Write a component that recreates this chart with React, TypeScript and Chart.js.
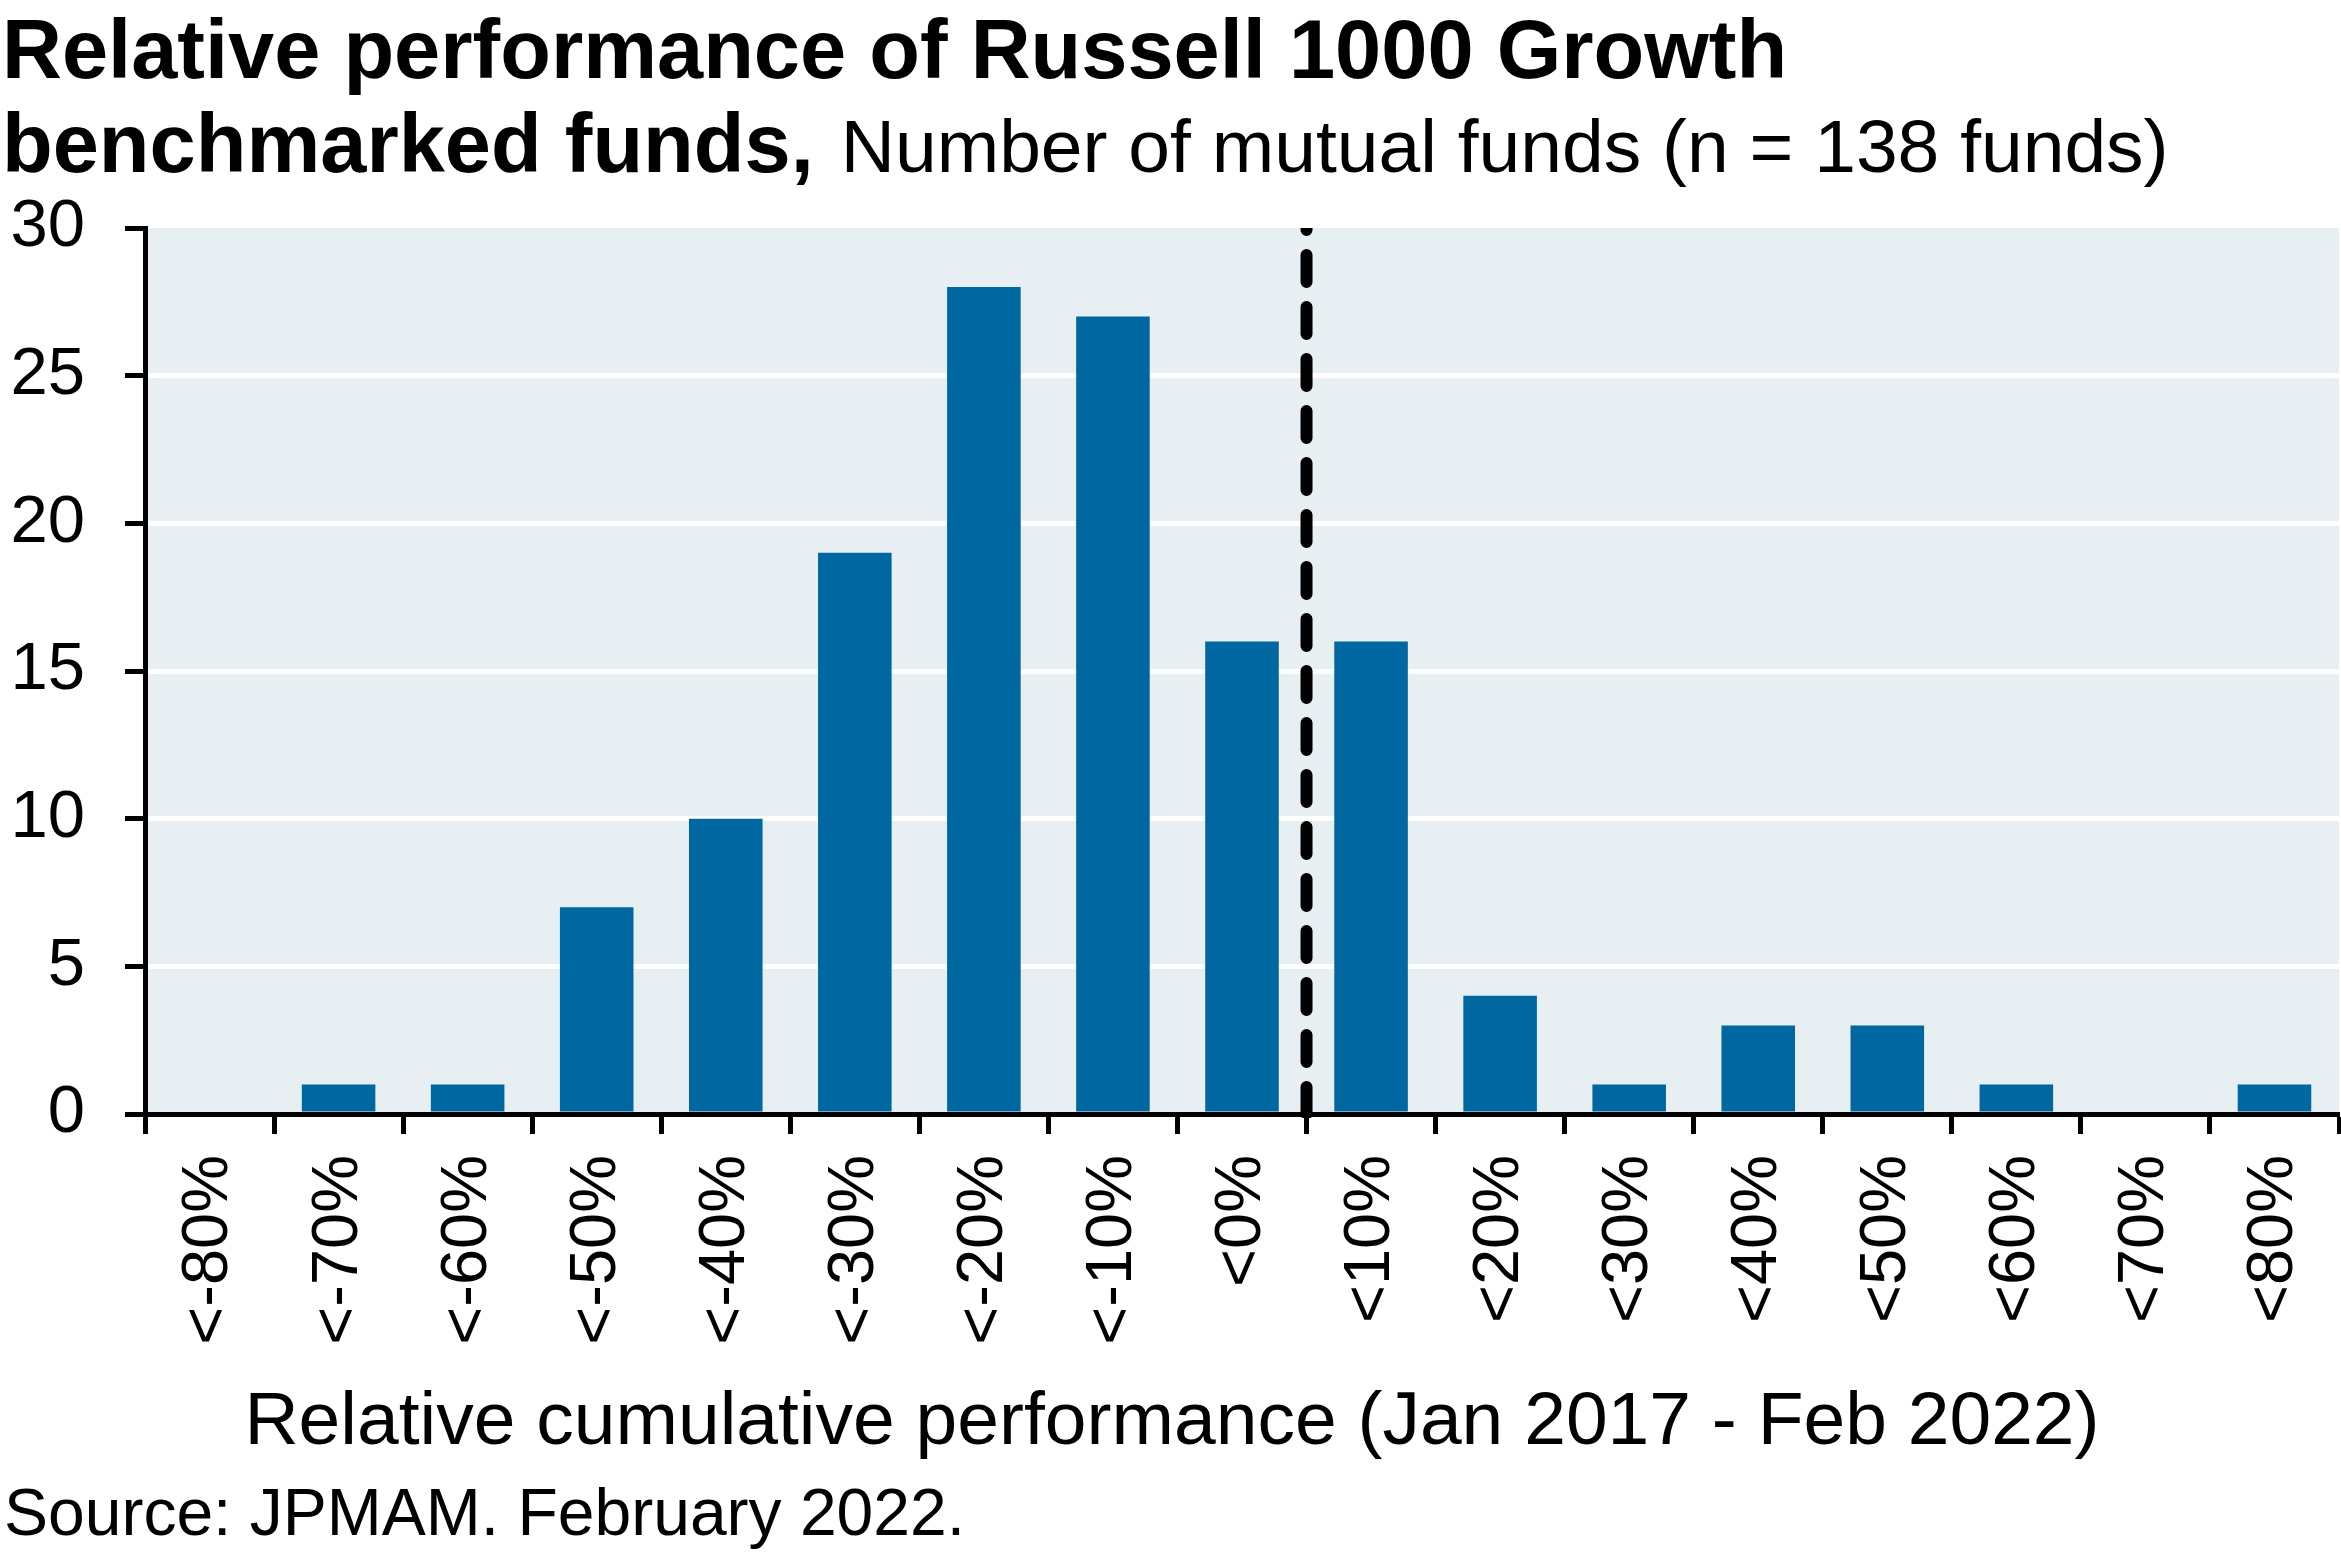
import React, { useEffect, useRef } from "react";
import { Chart, registerables } from "chart.js";

Chart.register(...registerables);

// ---------- data ----------
const categories = [
  "<-80%", "<-70%", "<-60%", "<-50%", "<-40%", "<-30%", "<-20%", "<-10%", "<0%",
  "<10%", "<20%", "<30%", "<40%", "<50%", "<60%", "<70%", "<80%",
];
const fundCounts = [0, 1, 1, 7, 10, 19, 28, 27, 16, 16, 4, 1, 3, 3, 1, 0, 1];
const yTickValues = [0, 5, 10, 15, 20, 25, 30];
const benchmarkLineAfter = "<0%"; // dashed line sits on the boundary after this category

const titleLine1 = "Relative performance of Russell 1000 Growth";
const titleLine2Bold = "benchmarked funds,";
const titleLine2Regular = "Number of mutual funds (n = 138 funds)";
const xAxisTitle = "Relative cumulative performance (Jan 2017 - Feb 2022)";
const sourceNote = "Source: JPMAM. February 2022.";

// ---------- style ----------
const W = 2341;
const H = 1561;
const FONT = '"Liberation Sans", Arial, Helvetica, sans-serif';
const BAR_COLOR = "#0067A0";
const PLOT_BG = "#E7EFF2";

const decorPlugin = {
  id: "decor",
  beforeDraw(chart: any) {
    const { ctx, chartArea } = chart;
    ctx.save();
    ctx.fillStyle = "#ffffff";
    ctx.fillRect(0, 0, chart.width, chart.height);
    ctx.fillStyle = PLOT_BG;
    ctx.fillRect(chartArea.left, chartArea.top, chartArea.right - chartArea.left, chartArea.bottom - chartArea.top);
    ctx.restore();
  },
  afterDraw(chart: any) {
    const { ctx, chartArea } = chart;
    const xs = chart.scales.x;
    const idx = categories.indexOf(benchmarkLineAfter);
    const lx = (xs.getPixelForValue(idx) + xs.getPixelForValue(idx + 1)) / 2;

    // dashed benchmark line
    ctx.save();
    ctx.beginPath();
    ctx.rect(chartArea.left, chartArea.top, chartArea.right - chartArea.left, chartArea.bottom - chartArea.top + 4);
    ctx.clip();
    ctx.strokeStyle = "#000";
    ctx.lineWidth = 12;
    ctx.lineCap = "round";
    ctx.setLineDash([27, 25]);
    ctx.beginPath();
    ctx.moveTo(lx, chartArea.bottom);
    ctx.lineTo(lx, chartArea.top - 10);
    ctx.stroke();
    ctx.restore();

    // texts
    ctx.save();
    ctx.fillStyle = "#000";
    ctx.textBaseline = "alphabetic";
    ctx.textAlign = "left";
    ctx.font = `bold 83px ${FONT}`;
    ctx.fillText(titleLine1, 2, 78);
    ctx.fillText(titleLine2Bold, 2, 172);
    const bw = ctx.measureText(titleLine2Bold + " ").width;
    ctx.font = `75px ${FONT}`;
    ctx.fillText(titleLine2Regular, 2 + bw + 4, 172);

    ctx.textAlign = "center";
    ctx.font = `75px ${FONT}`;
    ctx.fillText(xAxisTitle, 1172, 1444);

    ctx.textAlign = "left";
    ctx.font = `66px ${FONT}`;
    ctx.fillText(sourceNote, 4, 1535);
    ctx.restore();
  },
};

export default function App() {
  const ref = useRef<HTMLCanvasElement | null>(null);

  useEffect(() => {
    if (!ref.current) return;
    const chart = new Chart(ref.current, {
      type: "bar",
      data: {
        labels: categories,
        datasets: [
          {
            data: fundCounts,
            backgroundColor: BAR_COLOR,
            borderWidth: 0,
            barPercentage: 0.57,
            categoryPercentage: 1,
          },
        ],
      },
      options: {
        responsive: false,
        maintainAspectRatio: false,
        devicePixelRatio: 1,
        animation: false,
        layout: { padding: { top: 228, left: 0, right: 2, bottom: 0 } },
        plugins: {
          legend: { display: false },
          tooltip: { enabled: false },
          title: { display: false },
        },
        scales: {
          x: {
            type: "category",
            offset: true,
            grid: {
              offset: true,
              drawOnChartArea: false,
              drawTicks: true,
              tickLength: 20,
              tickColor: "#000",
              tickWidth: 5,
              color: "rgba(0,0,0,0)",
            },
            border: { display: true, color: "#000", width: 5, z: 1 },
            ticks: {
              autoSkip: false,
              minRotation: 90,
              maxRotation: 90,
              padding: 21,
              color: "#000",
              font: { family: FONT, size: 65 },
            },
            afterFit(scale: any) {
              scale.height = 447;
              scale.paddingLeft = 0;
              scale.paddingRight = 0;
            },
          },
          y: {
            min: 0,
            max: 30,
            grid: {
              color: (c: any) => (c.tick && (c.tick.value === 0 || c.tick.value === 30) ? "rgba(0,0,0,0)" : "#ffffff"),
              lineWidth: 5,
              drawTicks: true,
              tickLength: 20,
              tickColor: "#000",
              tickWidth: 5,
            },
            border: { display: true, color: "#000", width: 5, z: 1 },
            ticks: {
              padding: 40,
              color: "#000",
              font: { family: FONT, size: 67 },
            },
            afterBuildTicks(scale: any) {
              scale.ticks = yTickValues.map((v) => ({ value: v }));
            },
            afterFit(scale: any) {
              scale.width = 145;
              scale.paddingTop = 0;
              scale.paddingBottom = 0;
            },
          },
        },
      },
      plugins: [decorPlugin],
    } as any);
    return () => chart.destroy();
  }, []);

  return (
    <div style={{ position: "fixed", left: 0, top: 0, width: W, height: H, background: "#fff" }}>
      <canvas ref={ref} width={W} height={H} style={{ display: "block", width: W, height: H }} />
    </div>
  );
}
